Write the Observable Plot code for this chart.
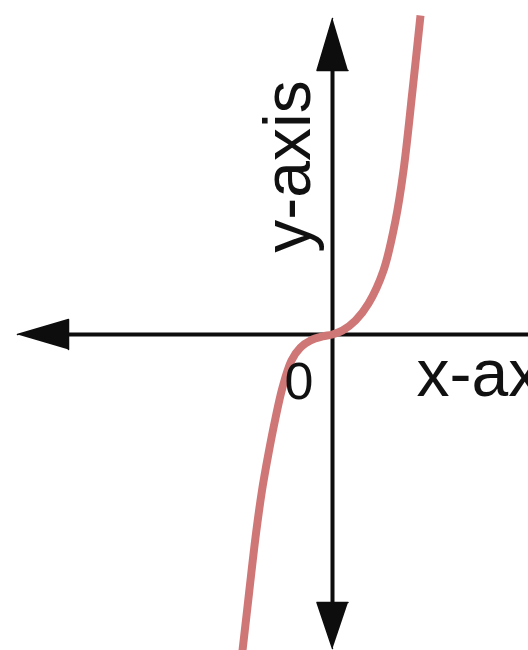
<!DOCTYPE html>
<html>
<head>
<meta charset="utf-8">
<script src="https://cdn.jsdelivr.net/npm/d3@7"></script>
<script src="https://cdn.jsdelivr.net/npm/@observablehq/plot@0.6"></script>
<style>
  html, body { margin: 0; padding: 0; background: #fff; overflow: hidden; }
  #chart svg { display: block; }
</style>
</head>
<body>
<div id="chart"></div>
<script>
// Curve points (data units; origin at 0,0)
const curveX = [-1.84, -1.80, -1.67, -1.54, -1.41, -1.28, -1.15, -1.00, -0.82, -0.64, -0.44, -0.20, 0, 0.20, 0.46, 0.72, 1.02, 1.26, 1.42, 1.60, 1.76];
const curveY = [-6.62, -6.32, -5.18, -4.06, -3.12, -2.38, -1.72, -1.06, -0.52, -0.26, -0.12, -0.04, 0, 0.08, 0.28, 0.62, 1.28, 2.28, 3.28, 4.88, 6.38];

// Axis lines
const axisName = ["x", "x", "y", "y"];
const axisX = [-5.6, 4.2, 0, 0];
const axisY = [0, 0, 5.4, -5.5];

// Arrow heads (triangles)
const arrowName = ["up", "up", "up", "down", "down", "down", "left", "left", "left"];
const arrowX = [0, -0.31, 0.31, 0, -0.31, 0.31, -6.30, -5.28, -5.28];
const arrowY = [6.32, 5.28, 5.28, -6.28, -5.36, -5.36, 0, 0.30, -0.30];

// Labels
const labelText = ["x-axis", "0"];
const labelX = [1.68, -0.67];
const labelY = [-1.22, -1.28];
const yLabelText = ["y-axis"];
const yLabelX = [-0.88];
const yLabelY = [3.36];

const curve = curveX.map((x, i) => ({x, y: curveY[i]}));
const axes = axisName.map((k, i) => ({k, x: axisX[i], y: axisY[i]}));
const arrows = arrowName.map((k, i) => ({k, x: arrowX[i], y: arrowY[i]}));
const labels = labelText.map((t, i) => ({t, x: labelX[i], y: labelY[i]}));
const yLabels = yLabelText.map((t, i) => ({t, x: yLabelX[i], y: yLabelY[i]}));

const W = 528, H = 650;
const font = "'Liberation Sans', Arial, Helvetica, sans-serif";

const chart = Plot.plot({
  width: W,
  height: H,
  margin: 0,
  style: {background: "#fff", fontFamily: font, overflow: "hidden"},
  x: {domain: [-6.64, 3.92], axis: null},
  y: {domain: [-6.32, 6.68], axis: null},
  marks: [
    Plot.line(axes, {x: "x", y: "y", z: "k", stroke: "#0d0d0d", strokeWidth: 4}),
    Plot.line(arrows, {x: "x", y: "y", z: "k", fill: "#0d0d0d", stroke: "#0d0d0d", strokeWidth: 1.5, strokeLinejoin: "round"}),
    Plot.line(curve, {x: "x", y: "y", curve: "catmull-rom", stroke: "#cf7777", strokeWidth: 8, strokeLinecap: "butt", clip: true}),
    Plot.text(labels.slice(0, 1), {x: "x", y: "y", text: "t", textAnchor: "start", lineAnchor: "bottom", fontSize: 66, fill: "#111"}),
    Plot.text(labels.slice(1), {x: "x", y: "y", text: "t", textAnchor: "middle", lineAnchor: "bottom", fontSize: 52, fill: "#111"}),
    Plot.text(yLabels, {x: "x", y: "y", text: "t", rotate: -90, textAnchor: "middle", lineAnchor: "middle", fontSize: 66, fill: "#111"})
  ]
});
document.getElementById("chart").appendChild(chart);
</script>
</body>
</html>
